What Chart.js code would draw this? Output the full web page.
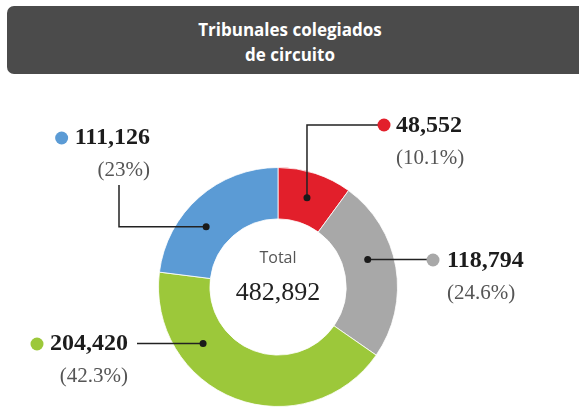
<!DOCTYPE html>
<html lang="es">
<head>
<meta charset="UTF-8">
<title>Tribunales colegiados de circuito</title>
<script src="https://cdn.jsdelivr.net/npm/chart.js"></script>
<style>
    html, body { margin: 0; padding: 0; background: #fff; }
    #wrap { position: relative; width: 579px; height: 410px; overflow: hidden; }
    .titulo {
        position: absolute; left: 7px; top: 6px; width: 590px; height: 68px;
        background: #4b4b4b; border-radius: 7px;
        color: #fff; font-family: "Open Sans", sans-serif; font-weight: 700;
        font-size: 17px; line-height: 25px; text-align: center;
        box-sizing: border-box; padding-top: 11px; padding-right: 24px;
    }
    #grafica { position: absolute; left: 0; top: 0; }
</style>
</head>
<body>
<div id="wrap">
    <div class="titulo">Tribunales colegiados<br>de circuito</div>
    <canvas id="grafica" width="579" height="410"></canvas>
</div>
<script>
    // datos
    const categorias = ['Rojo', 'Gris', 'Verde', 'Azul'];
    const valores = [48552, 118794, 204420, 111126];
    const porcentajes = ['(10.1%)', '(24.6%)', '(42.3%)', '(23%)'];
    const etiquetas = ['48,552', '118,794', '204,420', '111,126'];
    const total = '482,892';
    const colores = ['#e21f2b', '#a8a8a8', '#9cc83a', '#5b9bd5'];

    // donde va cada etiqueta (angulo del punto dentro del segmento, en grados desde arriba)
    const anclaGrados = [18, 73, 233, 310];
    const etiquetaPos = [
        { x: 396, y: 126, align: 'left', dot: [384, 125] },
        { x: 447, y: 261, align: 'left', dot: [433, 260] },
        { x: 128, y: 344, align: 'right', dot: [27, 344] },
        { x: 150, y: 138, align: 'right', dot: [68, 138] }
    ];

    const etiquetasPlugin = {
        id: 'etiquetas',
        afterDatasetsDraw(chart) {
            const ctx = chart.ctx;
            const arcs = chart.getDatasetMeta(0).data;
            const cx = arcs[0].x, cy = arcs[0].y;
            const rMid = (arcs[0].innerRadius + arcs[0].outerRadius) / 2;

            // texto central
            ctx.save();
            ctx.textAlign = 'center';
            ctx.textBaseline = 'middle';
            ctx.fillStyle = '#555';
            ctx.font = '16px "Open Sans", sans-serif';
            ctx.fillText('Total', cx, cy - 29);
            ctx.fillStyle = '#222';
            ctx.font = '26px "Liberation Serif", serif';
            ctx.fillText(total, cx, cy + 6);

            arcs.forEach((arc, i) => {
                const a = anclaGrados[i] * Math.PI / 180;
                const ax = cx + rMid * Math.sin(a);
                const ay = cy - rMid * Math.cos(a);
                const p = etiquetaPos[i];

                // linea guia
                ctx.strokeStyle = '#222';
                ctx.lineWidth = 1.5;
                ctx.beginPath();
                ctx.moveTo(ax, ay);
                if (i === 0) {
                    ctx.lineTo(ax, p.dot[1]);
                    ctx.lineTo(p.dot[0], p.dot[1]);
                } else if (i === 1) {
                    ctx.lineTo(p.dot[0], ay);
                } else if (i === 2) {
                    ctx.lineTo(137, ay);
                } else {
                    ctx.lineTo(119, ay);
                    ctx.lineTo(119, 185);
                }
                ctx.stroke();

                ctx.fillStyle = '#1a1a1a';
                ctx.beginPath();
                ctx.arc(ax, ay, 3.5, 0, Math.PI * 2);
                ctx.fill();

                // numeros
                ctx.textAlign = p.align;
                ctx.fillStyle = '#1c1c1c';
                ctx.font = 'bold 24px "Liberation Serif", serif';
                ctx.fillText(etiquetas[i], p.x, p.y);
                let dotX = p.dot[0];
                if (p.align === 'right') {
                    dotX = p.x - ctx.measureText(etiquetas[i]).width - 13;
                }
                ctx.fillStyle = '#555';
                ctx.font = '21px "Liberation Serif", serif';
                ctx.fillText(porcentajes[i], p.x, p.y + 32);

                // punto de color
                ctx.fillStyle = colores[i];
                ctx.beginPath();
                ctx.arc(dotX, p.dot[1], 6.5, 0, Math.PI * 2);
                ctx.fill();
            });
            ctx.restore();
        }
    };

    new Chart(document.getElementById('grafica'), {
        type: 'doughnut',
        data: {
            labels: categorias,
            datasets: [{
                data: valores,
                backgroundColor: colores,
                borderColor: 'rgba(255,255,255,0.8)',
                borderWidth: 1
            }]
        },
        options: {
            responsive: false,
            animation: false,
            cutout: '57%',
            layout: { padding: { left: 158, right: 181, top: 167, bottom: 3 } },
            plugins: {
                legend: { display: false },
                tooltip: { enabled: false }
            }
        },
        plugins: [etiquetasPlugin]
    });
</script>
</body>
</html>
